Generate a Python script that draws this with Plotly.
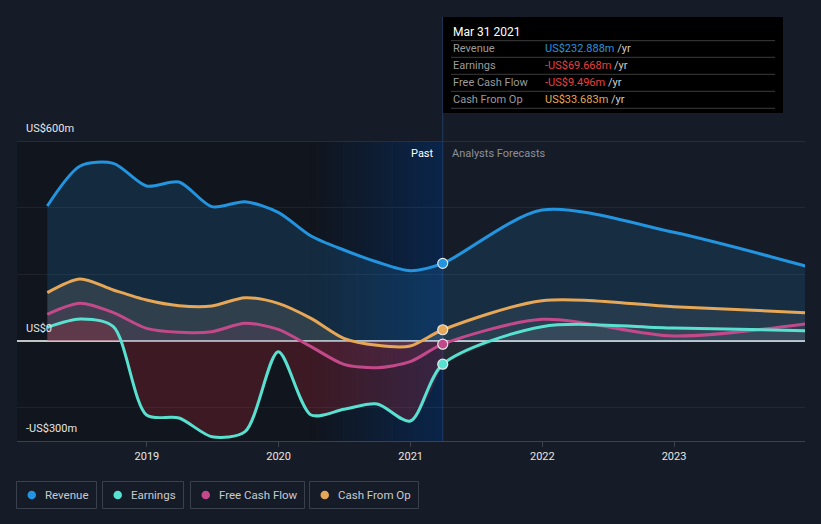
import plotly.graph_objects as go
import pandas as pd

# ---------------- data ----------------
past_dates = ['2018-03-31', '2018-06-30', '2018-09-30', '2018-12-31', '2019-03-31', '2019-06-30',
              '2019-09-30', '2019-12-31', '2020-03-31', '2020-06-30', '2020-09-30', '2020-12-31',
              '2021-03-31']
forecast_dates = ['2021-12-31', '2022-12-31', '2023-12-31']

revenue_past = [405, 525, 533, 465, 477, 403, 418, 386, 315, 273, 237, 211, 232.888]
revenue_fc = [393, 326, 225]

earnings_past = [41, 66, 43, -222, -231, -287, -272, -32, -222, -205, -189, -240, -69.668]
earnings_fc = [43, 39, 31]

fcf_past = [80, 113, 85, 38, 26, 28, 53, 35, -17, -70, -80, -62, -9.496]
fcf_fc = [65, 15, 51]

cfo_past = [145, 186, 153, 123, 106, 105, 130, 113, 68, 8, -13, -15, 33.683]
cfo_fc = [121, 103, 85]

series_names = ['Revenue', 'Earnings', 'Free Cash Flow', 'Cash From Op']
x_ticks = ['2019-01-01', '2020-01-01', '2021-01-01', '2022-01-01', '2023-01-01']
x_tick_labels = ['2019', '2020', '2021', '2022', '2023']
y_labels = {600: 'US$600m', 0: 'US$0', -300: '-US$300m'}
past_start = '2020-03-31'
now_date = '2021-03-31'
tooltip_title = 'Mar 31 2021'

# ---------------- style ----------------
W, H = 821, 524
L, R, T, B = 17, 16, 141, 83
BG = '#161c27'
COLORS = {'Revenue': '#2394df', 'Earnings': '#58e1d0',
          'Free Cash Flow': '#c4498a', 'Cash From Op': '#e6a756'}
FONT = 'Roboto, Open Sans, sans-serif'
X_RANGE = ['2018-01-06', '2023-12-30']
Y_RANGE = [-300, 600]


def px_x(px):
    return (px - L) / (W - L - R)


def px_y(py):
    return (H - B - py) / (H - T - B)


all_dates = past_dates + forecast_dates
data = {
    'Revenue': (revenue_past, revenue_fc),
    'Earnings': (earnings_past, earnings_fc),
    'Free Cash Flow': (fcf_past, fcf_fc),
    'Cash From Op': (cfo_past, cfo_fc),
}

fig = go.Figure()

# fills (drawn first)
fill_cfg = [
    ('Revenue', 'rgba(35,148,223,0.17)', 'rgba(35,148,223,0.15)'),
    ('Cash From Op', 'rgba(235,205,160,0.13)', 'rgba(200,200,200,0.09)'),
    ('Free Cash Flow', 'rgba(200,80,140,0.10)', 'rgba(200,200,200,0.03)'),
    ('Earnings', 'rgba(185,40,55,0.26)', 'rgba(200,200,210,0.08)'),
]
for name, cpast, cfc in fill_cfg:
    p, f = data[name]
    fig.add_trace(go.Scatter(x=past_dates, y=p, mode='lines',
                             line=dict(width=0, shape='spline', smoothing=0.8),
                             fill='tozeroy', fillcolor=cpast, hoverinfo='skip', showlegend=False))
    fig.add_trace(go.Scatter(x=[past_dates[-1]] + forecast_dates, y=[p[-1]] + f, mode='lines',
                             line=dict(width=0, shape='spline', smoothing=0.8),
                             fill='tozeroy', fillcolor=cfc, hoverinfo='skip', showlegend=False))

# lines
for name in ['Revenue', 'Cash From Op', 'Free Cash Flow', 'Earnings']:
    p, f = data[name]
    fig.add_trace(go.Scatter(x=all_dates, y=p + f, mode='lines', name=name,
                             line=dict(color=COLORS[name], width=3, shape='spline', smoothing=0.8),
                             showlegend=False, hoverinfo='skip'))
# markers at "now"
for name in ['Revenue', 'Cash From Op', 'Free Cash Flow', 'Earnings']:
    p, f = data[name]
    fig.add_trace(go.Scatter(x=[past_dates[-1]], y=[p[-1]], mode='markers',
                             marker=dict(color=COLORS[name], size=10,
                                         line=dict(color='#e8e8e8', width=1.2)),
                             showlegend=False, hoverinfo='skip'))

shapes = []
# dark past region
shapes.append(dict(type='rect', xref='x', yref='paper', x0=X_RANGE[0], x1=past_start, y0=0, y1=1,
                   fillcolor='#11151d', line=dict(width=0), layer='below'))
# gradient strip for last year (overlapping strips to avoid seams)
n = 30
s = pd.Timestamp(past_start)
e = pd.Timestamp(now_date)
c0 = (17, 21, 29)
c1 = (10, 37, 74)
for i in range(n):
    t = (i + 0.5) / n
    col = tuple(int(round(c0[k] + (c1[k] - c0[k]) * t)) for k in range(3))
    xa = s + (e - s) * i / n
    shapes.append(dict(type='rect', xref='x', yref='paper', x0=xa, x1=e, y0=0, y1=1,
                       fillcolor='rgb(%d,%d,%d)' % col, line=dict(width=0), layer='below'))
# top line at 600
shapes.append(dict(type='line', xref='paper', yref='y', x0=0, x1=1, y0=600, y1=600,
                   line=dict(color='#3b414d', width=1), layer='below'))
# zero line
shapes.append(dict(type='line', xref='paper', yref='y', x0=0, x1=1, y0=0, y1=0,
                   line=dict(color='#ffffff', width=1.5), layer='between'))
# now line
shapes.append(dict(type='line', xref='x', yref='paper', x0=now_date, x1=now_date, y0=0, y1=px_y(17),
                   line=dict(color='#1f3a66', width=1), layer='below'))
# tooltip box
shapes.append(dict(type='rect', xref='paper', yref='paper', x0=px_x(443), x1=px_x(783),
                   y0=px_y(113), y1=px_y(17), fillcolor='#000000', line=dict(width=0)))
for yy in [40.7, 57.3, 74.3, 91.3, 108.3]:
    shapes.append(dict(type='line', xref='paper', yref='paper', x0=px_x(451), x1=px_x(775),
                       y0=px_y(yy), y1=px_y(yy), line=dict(color='#3d3d3d', width=1)))

annotations = []
# y labels
for val, txt in y_labels.items():
    annotations.append(dict(xref='paper', yref='y', x=px_x(24), y=val, text=txt, showarrow=False,
                            xanchor='left', yanchor='bottom', yshift=4,
                            font=dict(family=FONT, size=11, color='#e6e6e6')))
# past / forecast labels
annotations.append(dict(xref='x', yref='paper', x=now_date, y=px_y(153), text='Past', showarrow=False,
                        xanchor='right', yanchor='middle', xshift=-7,
                        font=dict(family=FONT, size=11, color='#ffffff')))
annotations.append(dict(xref='x', yref='paper', x=now_date, y=px_y(153), text='Analysts Forecasts',
                        showarrow=False, xanchor='left', yanchor='middle', xshift=7,
                        font=dict(family=FONT, size=11, color='#8c9099')))


# tooltip
def fmt(v):
    return ('-' if v < 0 else '') + 'US$%.3fm' % abs(v)


annotations.append(dict(xref='paper', yref='paper', x=px_x(451), y=px_y(31.5), text=tooltip_title,
                        showarrow=False, xanchor='left', yanchor='middle',
                        font=dict(family=FONT, size=12, color='#ffffff')))
for i, name in enumerate(series_names):
    v = data[name][0][-1]
    if name == 'Revenue':
        vc = '#2394df'
    elif name == 'Cash From Op':
        vc = '#e6a756'
    else:
        vc = '#e8403f' if v < 0 else COLORS[name]
    yy = 48.3 + 17 * i
    annotations.append(dict(xref='paper', yref='paper', x=px_x(451), y=px_y(yy), text=name,
                            showarrow=False, xanchor='left', yanchor='middle',
                            font=dict(family=FONT, size=11, color='#9b9b9b')))
    annotations.append(dict(xref='paper', yref='paper', x=px_x(542.5), y=px_y(yy),
                            text='<span style="color:%s">%s</span> /yr' % (vc, fmt(v)),
                            showarrow=False, xanchor='left', yanchor='middle',
                            font=dict(family=FONT, size=11, color='#cfcfcf')))

# custom legend
legend_boxes = [(16, 97), (102, 184), (190, 305), (309, 419)]
for (bx0, bx1), name in zip(legend_boxes, series_names):
    shapes.append(dict(type='rect', xref='paper', yref='paper', x0=px_x(bx0 + 0.5), x1=px_x(bx1 - 0.5),
                       y0=px_y(508.5), y1=px_y(481.5), line=dict(color='#3a404c', width=1),
                       fillcolor='rgba(0,0,0,0)'))
    shapes.append(dict(type='circle', xref='paper', yref='paper', x0=px_x(bx0 + 11.5), x1=px_x(bx0 + 20),
                       y0=px_y(499.3), y1=px_y(490.7), line=dict(width=0), fillcolor=COLORS[name]))
    annotations.append(dict(xref='paper', yref='paper', x=px_x(bx0 + 27), y=px_y(495), text=name,
                            showarrow=False, xanchor='left', yanchor='middle',
                            font=dict(family=FONT, size=11.5, color='#c8cad0')))

fig.update_layout(
    width=W, height=H,
    margin=dict(l=L, r=R, t=T, b=B),
    paper_bgcolor=BG, plot_bgcolor=BG,
    shapes=shapes, annotations=annotations,
    showlegend=False,
    hovermode=False,
    xaxis=dict(type='date', range=X_RANGE, tickvals=x_ticks, ticktext=x_tick_labels,
               showgrid=False, zeroline=False, showline=True, linecolor='#3b414d', linewidth=1,
               ticks='outside', ticklen=5, tickcolor='#3b414d',
               tickfont=dict(family=FONT, size=11, color='#e6e6e6')),
    yaxis=dict(range=Y_RANGE, tickvals=[-200, 200, 400], showticklabels=False,
               gridcolor='rgba(255,255,255,0.06)', gridwidth=1, zeroline=False),
    font=dict(family=FONT),
)

fig.write_html('out.html', config={'displayModeBar': False},
               post_script="document.body.style.margin='0';document.body.style.background='%s';" % BG)
